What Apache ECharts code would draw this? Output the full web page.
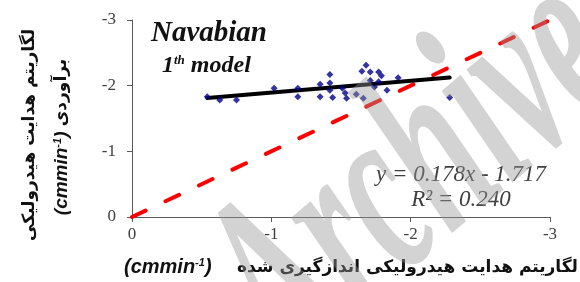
<!DOCTYPE html>
<html>
<head>
<meta charset="utf-8">
<script src="https://cdn.jsdelivr.net/npm/echarts@6/dist/echarts.min.js"></script>
<style>
  html, body { margin: 0; padding: 0; background: #fff; }
  #chart { width: 580px; height: 282px; }
</style>
</head>
<body>
<div id="chart"></div>
<script>
// measured log K (x) and estimated log K (y)
const measured = [-0.54, -0.63, -0.75, -1.02, -1.19, -1.19, -1.35, -1.35, -1.42, -1.42,
  -1.42, -1.44, -1.51, -1.53, -1.54, -1.61, -1.66, -1.65, -1.68, -1.71,
  -1.71, -1.77, -1.79, -1.77, -1.74, -1.83, -1.91, -2.28];
const estimated = [-1.83, -1.78, -1.78, -1.96, -1.96, -1.83, -2.02, -1.83, -2.17, -2.04,
  -1.93, -1.82, -1.96, -1.89, -1.81, -1.87, -1.81, -2.22, -2.31, -2.21,
  -2.08, -2.21, -2.15, -2.06, -1.98, -1.93, -2.12, -1.82];
const axisTicks = [0, -1, -2, -3];
const slope = 0.178;
const intercept = -1.717;
const oneToOne = [0, -3];

const points = measured.map((x, i) => [x, estimated[i]]);
const xLo = Math.max(...measured);
const xHi = Math.min(...measured);
const trend = [xLo, xHi].map(x => [x, slope * x + intercept]);

const chart = echarts.init(document.getElementById('chart'));

const serif = '"Liberation Serif", "DejaVu Serif", serif';
const sans = '"Liberation Sans", sans-serif';
const faFont = '"DejaVu Sans", sans-serif';

chart.setOption({
  animation: false,
  grid: { left: 132, right: 30, top: 20, bottom: 65 },
  xAxis: {
    type: 'value', min: axisTicks[3], max: axisTicks[0], interval: 1, inverse: true,
    splitLine: { show: false },
    axisLine: { lineStyle: { color: '#595959', width: 1 } },
    axisTick: { show: true, length: 5, lineStyle: { color: '#595959' } },
    axisLabel: { color: '#404040', fontFamily: serif, fontSize: 17, margin: 9 }
  },
  yAxis: {
    type: 'value', min: axisTicks[3], max: axisTicks[0], interval: 1, inverse: true,
    splitLine: { show: false },
    axisLine: { show: true, lineStyle: { color: '#595959', width: 1 } },
    axisTick: { show: true, length: 5, lineStyle: { color: '#595959' } },
    axisLabel: { color: '#404040', fontFamily: serif, fontSize: 17, margin: 16 }
  },
  series: [
    {
      type: 'line',
      data: oneToOne.map(v => [v, v]),
      symbol: 'none',
      lineStyle: { color: '#ff0000', width: 4, type: [15, 22], cap: 'round' },
      z: 2
    },
    {
      type: 'line',
      data: trend,
      symbol: 'none',
      lineStyle: { color: '#000', width: 4, cap: 'round' },
      z: 3
    },
    {
      type: 'scatter',
      data: points,
      symbol: 'diamond',
      symbolSize: 7,
      itemStyle: { color: '#00008b' },
      z: 4
    }
  ],
  graphic: [
    {
      type: 'text', left: 151, top: 19,
      style: { text: 'Navabian', font: 'italic bold 29px ' + serif, fill: '#111' }
    },
    {
      type: 'text', left: 162, top: 54,
      style: {
        text: '{a|1}{s|th}{a| model}',
        rich: {
          a: { font: 'italic bold 24px ' + serif, fill: '#111', verticalAlign: 'bottom' },
          s: { font: 'italic bold 13px ' + serif, fill: '#111', verticalAlign: 'top' }
        }
      }
    },
    {
      type: 'text', x: 461, y: 175,
      style: { text: 'y = 0.178x - 1.717', font: 'italic 23px ' + serif, fill: '#404040', align: 'center', verticalAlign: 'middle' }
    },
    {
      type: 'text', x: 461, y: 200,
      style: { text: 'R² = 0.240', font: 'italic 23px ' + serif, fill: '#404040', align: 'center', verticalAlign: 'middle' }
    },
    // x axis title
    {
      type: 'text', x: 578, y: 268,
      style: { text: 'لگاریتم هدایت هیدرولیکی اندازگیری شده', font: 'bold 17px ' + faFont, fill: '#111', align: 'right', verticalAlign: 'middle' }
    },
    {
      type: 'text', x: 124, y: 267,
      style: {
        text: '{a|(cmmin}{s|-1}{a|)}',
        verticalAlign: 'middle',
        rich: {
          a: { font: 'italic bold 20px ' + sans, fill: '#111' },
          s: { font: 'italic bold 11px ' + sans, fill: '#111', verticalAlign: 'top' }
        }
      }
    },
    // y axis title
    {
      type: 'text', x: 30, y: 135, rotation: Math.PI / 2,
      style: { text: 'لگاریتم هدایت هیدرولیکی', font: 'bold 17px ' + faFont, fill: '#111', align: 'center', verticalAlign: 'middle' }
    },
    {
      type: 'text', x: 62, y: 137, rotation: Math.PI / 2,
      style: {
        text: '{a|(cmmin}{s|-1}{a|) }{f|برآوردی}',
        align: 'center', verticalAlign: 'middle',
        rich: {
          a: { font: 'italic bold 19px ' + sans, fill: '#111' },
          s: { font: 'italic bold 11px ' + sans, fill: '#111', verticalAlign: 'top' },
          f: { font: 'bold 17px ' + faFont, fill: '#111' }
        }
      }
    },
    // watermark
    {
      type: 'text', x: 420, y: 175, rotation: 0.7, scaleY: 1.8, z: 100,
      style: { text: 'Archive', font: 'italic bold 140px ' + serif, fill: 'rgba(150,150,150,0.42)', align: 'center', verticalAlign: 'middle' }
    }
  ]
});
</script>
</body>
</html>
